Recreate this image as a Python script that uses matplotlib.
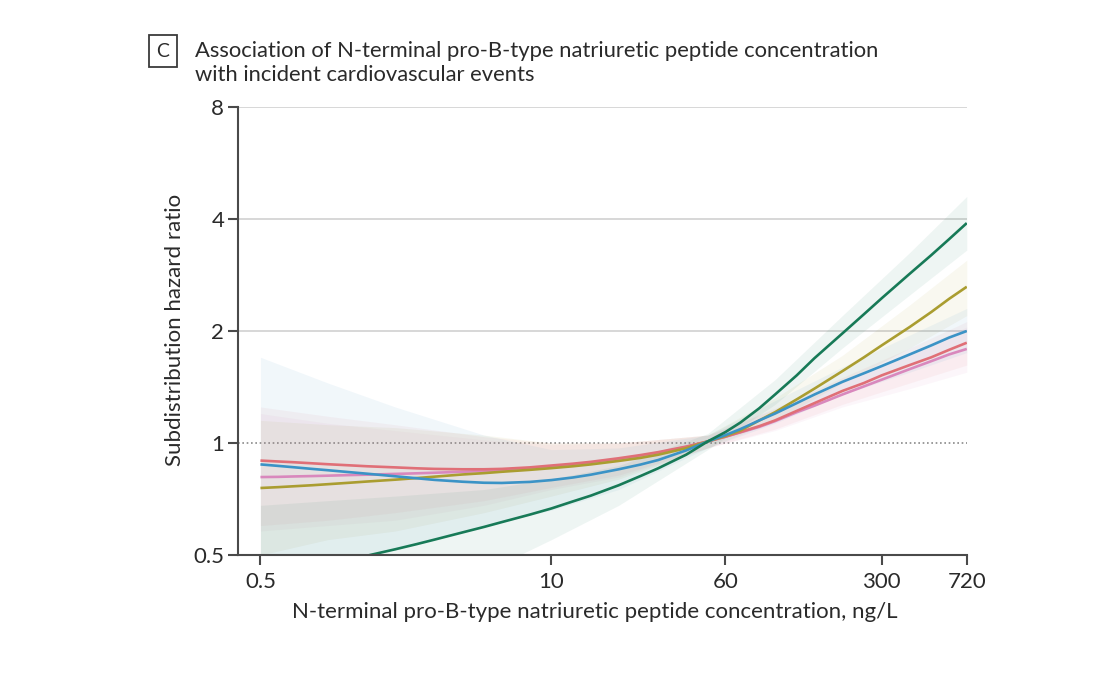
import numpy as np
import matplotlib.pyplot as plt
from matplotlib.ticker import FixedLocator, NullLocator

plt.rcParams['font.family'] = ['Lato', 'DejaVu Sans']

# NT-proBNP concentration, ng/L
conc = [0.5, 0.6, 0.7, 0.85, 1, 1.25, 1.5, 2, 2.5, 3, 4, 5, 6, 8, 10, 12.5, 15, 20, 25, 30,
        40, 50, 60, 70, 85, 100, 125, 150, 200, 250, 300, 400, 500, 600, 720]

hr_green = [0.42, 0.43, 0.44, 0.455, 0.467, 0.484, 0.498, 0.518, 0.535, 0.55, 0.575, 0.595, 0.613,
            0.642, 0.667, 0.697, 0.722, 0.77, 0.815, 0.855, 0.93, 1.01, 1.07, 1.135, 1.24, 1.35,
            1.52, 1.69, 1.97, 2.22, 2.45, 2.85, 3.2, 3.53, 3.9]
hr_olive = [0.757, 0.761, 0.765, 0.77, 0.775, 0.782, 0.788, 0.797, 0.805, 0.812, 0.823, 0.83, 0.837,
            0.847, 0.856, 0.866, 0.876, 0.895, 0.912, 0.93, 0.968, 1.01, 1.045, 1.08, 1.15, 1.21,
            1.31, 1.4, 1.56, 1.7, 1.83, 2.05, 2.25, 2.44, 2.63]
hr_blue = [0.876, 0.868, 0.861, 0.852, 0.845, 0.835, 0.827, 0.814, 0.804, 0.796, 0.787, 0.782, 0.781,
           0.786, 0.795, 0.808, 0.822, 0.85, 0.875, 0.9, 0.955, 1.01, 1.05, 1.09, 1.15, 1.2,
           1.28, 1.35, 1.46, 1.54, 1.61, 1.73, 1.83, 1.92, 2.0]
hr_red = [0.897, 0.892, 0.888, 0.882, 0.877, 0.871, 0.866, 0.86, 0.855, 0.852, 0.85, 0.85, 0.852,
          0.86, 0.87, 0.88, 0.89, 0.91, 0.928, 0.945, 0.978, 1.01, 1.04, 1.07, 1.11, 1.15,
          1.22, 1.28, 1.38, 1.45, 1.52, 1.62, 1.7, 1.78, 1.86]
hr_pink = [0.81, 0.811, 0.813, 0.815, 0.817, 0.82, 0.822, 0.826, 0.829, 0.832, 0.837, 0.841, 0.845,
           0.853, 0.862, 0.872, 0.882, 0.903, 0.922, 0.94, 0.975, 1.01, 1.04, 1.068, 1.105, 1.145,
           1.21, 1.26, 1.35, 1.42, 1.48, 1.58, 1.66, 1.73, 1.79]

# confidence bands, on a coarser grid
band_x = [0.5, 1, 2, 5, 10, 20, 50, 100, 200, 400, 720]
lo_green = [0.28, 0.33, 0.38, 0.45, 0.55, 0.68, 0.96, 1.27, 1.80, 2.50, 3.30]
hi_green = [0.68, 0.70, 0.72, 0.75, 0.80, 0.87, 1.06, 1.48, 2.20, 3.25, 4.60]
lo_olive = [0.50, 0.55, 0.58, 0.65, 0.72, 0.80, 0.97, 1.15, 1.45, 1.80, 2.20]
hi_olive = [1.15, 1.12, 1.10, 1.05, 1.00, 1.00, 1.05, 1.32, 1.72, 2.35, 3.10]
lo_blue = [0.42, 0.47, 0.52, 0.60, 0.66, 0.75, 0.97, 1.13, 1.35, 1.55, 1.75]
hi_blue = [1.70, 1.45, 1.25, 1.05, 0.96, 0.97, 1.05, 1.30, 1.60, 1.95, 2.30]
lo_red = [0.60, 0.62, 0.65, 0.70, 0.76, 0.82, 0.97, 1.09, 1.27, 1.45, 1.62]
hi_red = [1.25, 1.18, 1.12, 1.04, 1.00, 1.00, 1.05, 1.24, 1.50, 1.80, 2.12]
lo_pink = [0.58, 0.60, 0.62, 0.68, 0.75, 0.81, 0.97, 1.08, 1.25, 1.40, 1.55]
hi_pink = [1.20, 1.13, 1.08, 1.02, 0.99, 1.00, 1.05, 1.23, 1.47, 1.75, 2.05]

series = [
    (hr_pink, lo_pink, hi_pink, '#d988bd'),
    (hr_red, lo_red, hi_red, '#e06f77'),
    (hr_olive, lo_olive, hi_olive, '#aa9d30'),
    (hr_blue, lo_blue, hi_blue, '#3b93c6'),
    (hr_green, lo_green, hi_green, '#177a57'),
]

y_ticks = [0.5, 1, 2, 4, 8]
x_ticks = [0.5, 10, 60, 300, 720]

fig = plt.figure(figsize=(11, 6.87), dpi=100)
ax = fig.add_axes([0.2164, 0.1921, 0.6625, 0.6522])

for hr, lo, hi, col in series:
    ax.fill_between(band_x, lo, hi, color=col, alpha=0.07, linewidth=0)
for hr, lo, hi, col in series:
    ax.plot(conc, hr, color=col, lw=1.9, solid_capstyle='butt')

ax.set_xscale('log')
ax.set_yscale('log', base=2)
ax.set_xlim(0.397, 720)
ax.set_ylim(0.5, 8)

for g in [2, 4, 8]:
    ax.axhline(g, color='#d4d4d4', lw=1.3, zorder=0)
ax.axhline(1, color='#8a8a8a', lw=1.2, ls=(0, (1, 1.6)), zorder=0)

ax.xaxis.set_major_locator(FixedLocator(x_ticks))
ax.xaxis.set_minor_locator(NullLocator())
ax.set_xticklabels(['0.5', '10', '60', '300', '720'])
ax.yaxis.set_major_locator(FixedLocator(y_ticks))
ax.yaxis.set_minor_locator(NullLocator())
ax.set_yticklabels(['0.5', '1', '2', '4', '8'])

for s in ['top', 'right']:
    ax.spines[s].set_visible(False)
for s in ['left', 'bottom']:
    ax.spines[s].set_color('#4a4a4a')
    ax.spines[s].set_linewidth(1.5)
ax.tick_params(axis='both', colors='#4a4a4a', labelcolor='#2a2a2a', labelsize=16,
               width=1.5, length=7)
ax.tick_params(axis='x', pad=5)
ax.tick_params(axis='y', pad=3)

fig.text(0.159, 0.52, 'Subdistribution hazard ratio', rotation=90, ha='center', va='center',
         fontsize=16, color='#2a2a2a')
fig.text(0.541, 0.109, 'N-terminal pro-B-type natriuretic peptide concentration, ng/L',
         ha='center', va='center', fontsize=16, color='#2a2a2a')

fig.text(0.1482, 0.9257, 'C', ha='center', va='center', fontsize=14, color='#2a2a2a',
         bbox=dict(boxstyle='square,pad=0.4', fc='white', ec='#3a3a3a', lw=1.3))
fig.text(0.1773, 0.941, 'Association of N-terminal pro-B-type natriuretic peptide concentration\n'
         'with incident cardiovascular events', ha='left', va='top', fontsize=15.8,
         color='#2a2a2a', linespacing=1.28)

fig.savefig('out.png', dpi=100, facecolor='white')
